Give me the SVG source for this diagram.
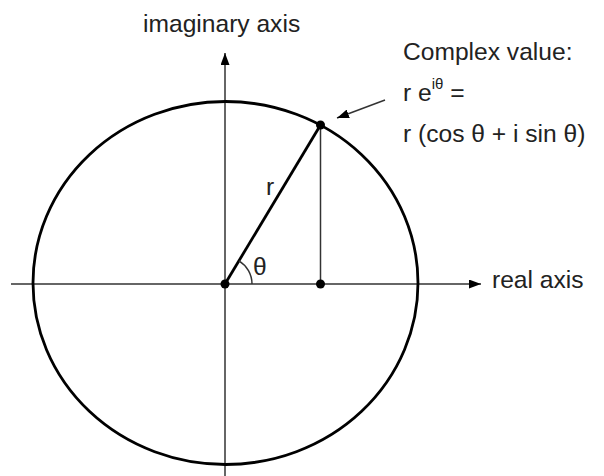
<svg xmlns="http://www.w3.org/2000/svg" width="604" height="476" viewBox="0 0 604 476">
<style>
.axis{stroke:#333;stroke-width:1.5;fill:none}
.thick{stroke:#000;stroke-width:2.8;fill:none}
.thin{stroke:#333;stroke-width:1.5;fill:none}
.dot{fill:#000}
text{font-family:"Liberation Sans",Arial,sans-serif;font-size:24.6px;fill:#222}
.sup{font-size:15px}
</style>
<defs>
<marker id="ah" viewBox="0 0 12 9" refX="12" refY="4.5" markerWidth="12" markerHeight="9" markerUnits="userSpaceOnUse" orient="auto">
<path d="M0,0 L12,4.5 L0,9 Z" fill="#000"/>
</marker>
</defs>
<rect width="604" height="476" fill="#fff"/>
<g id="connectors">
<line class="axis" x1="11" y1="284" x2="481" y2="284" marker-end="url(#ah)"/>
<line class="axis" x1="225" y1="476" x2="225" y2="53" marker-end="url(#ah)"/>
<line class="thin" x1="320.5" y1="125" x2="320.5" y2="284"/>
<line class="thick" x1="225" y1="284" x2="320.5" y2="125"/>
<path class="thin" d="M252,284 A27,27 0 0 0 238.9,260.9" stroke="#000"/>
<line class="thin" x1="385" y1="100" x2="337" y2="118" marker-end="url(#ah)"/>
</g>
<g id="circle">
<ellipse class="thick" cx="225.5" cy="283" rx="192.5" ry="181.5"/>
</g>
<g id="origin"><circle class="dot" cx="225" cy="284" r="4.5"/></g>
<g id="point"><circle class="dot" cx="320.5" cy="125" r="4.5"/></g>
<g id="projection"><circle class="dot" cx="320.5" cy="284" r="4.5"/></g>
<g id="labels">
<text x="143" y="32">imaginary axis</text>
<text x="492" y="288">real axis</text>
<text x="266" y="195">r</text>
<text x="253" y="275">θ</text>
<text x="403" y="60">Complex value:</text>
<text x="403" y="101">r e<tspan class="sup" dy="-12">iθ</tspan><tspan dy="12"> =</tspan></text>
<text x="403" y="142">r (cos θ + i sin θ)</text>
</g>
</svg>
